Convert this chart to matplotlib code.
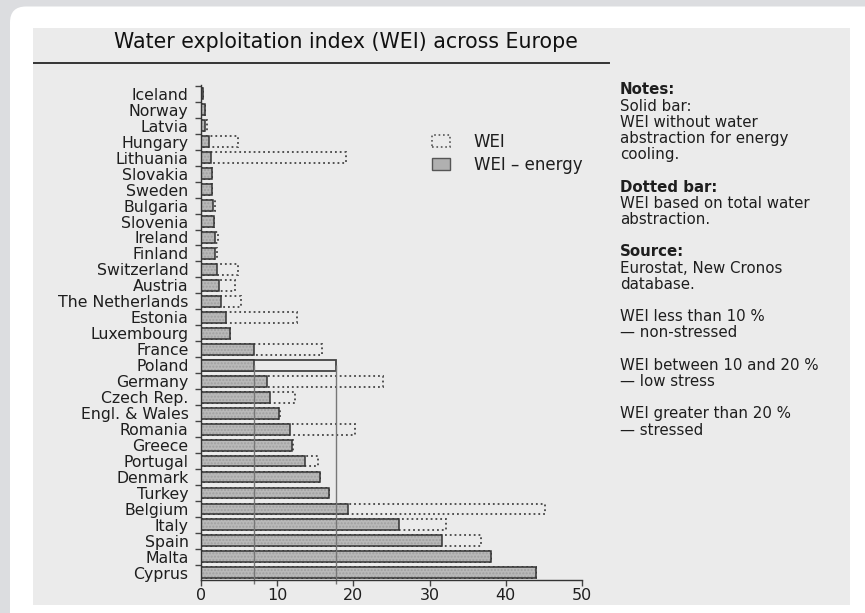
import numpy as np
import matplotlib.pyplot as plt
from matplotlib.patches import Rectangle, FancyBboxPatch, Patch
from matplotlib.lines import Line2D
from matplotlib.transforms import IdentityTransform

countries = ["Iceland", "Norway", "Latvia", "Hungary", "Lithuania", "Slovakia",
             "Sweden", "Bulgaria", "Slovenia", "Ireland", "Finland", "Switzerland",
             "Austria", "The Netherlands", "Estonia", "Luxembourg", "France", "Poland",
             "Germany", "Czech Rep.", "Engl. & Wales", "Romania", "Greece", "Portugal",
             "Denmark", "Turkey", "Belgium", "Italy", "Spain", "Malta", "Cyprus"]
# solid bar: WEI without abstraction for energy cooling
wei_energy = [0.2, 0.5, 0.5, 1.1, 1.3, 1.5, 1.5, 1.6, 1.7, 1.9, 1.8, 2.1, 2.4, 2.6,
              3.3, 3.8, 7.0, 7.0, 8.6, 9.1, 10.3, 11.7, 12.0, 13.6, 15.6, 16.8,
              19.3, 26.0, 31.6, 38.0, 44.0]
# dotted bar: WEI on total abstraction
wei_total = [0.2, 0.5, 0.8, 4.8, 19.0, 1.5, 1.5, 1.9, 1.7, 2.2, 2.1, 4.9, 4.4, 5.2,
             12.6, 3.8, 15.9, 17.7, 23.9, 12.3, 10.4, 20.2, 12.1, 15.3, 15.6, 16.8,
             45.2, 32.1, 36.8, 38.0, 44.0]

title = "Water exploitation index (WEI) across Europe"
legend_labels = ["WEI", "WEI \u2013 energy"]
notes = [("Notes:", True), ("Solid bar:", False), ("WEI without water", False),
         ("abstraction for energy", False), ("cooling.", False), None,
         ("Dotted bar:", True), ("WEI based on total water", False),
         ("abstraction.", False), None,
         ("Source:", True), ("Eurostat, New Cronos", False), ("database.", False), None,
         ("WEI less than 10 %", False), ("\u2014 non-stressed", False), None,
         ("WEI between 10 and 20 %", False), ("\u2014 low stress", False), None,
         ("WEI greater than 20 %", False), ("\u2014 stressed", False)]

plt.rcParams['font.family'] = ['DejaVu Sans']
txt = '#1e1e1e'

W, H = 865, 613
fig = plt.figure(figsize=(W / 100, H / 100), dpi=100, facecolor='#dcdde0')

def fx(px):
    return px / W

def fy(py):
    return 1 - py / H

# white card + scanned page
fig.add_artist(FancyBboxPatch((10, -30), 900, H - 6.5 + 30,
                              boxstyle="round,pad=0,rounding_size=16",
                              transform=IdentityTransform(), facecolor='white',
                              edgecolor='none', zorder=-5))
fig.add_artist(Rectangle((33, H - 605), 850 - 33, 605 - 28, transform=IdentityTransform(),
                         facecolor='#ebebeb', edgecolor='none', zorder=-4))

fig.text(fx(114), fy(42), title, fontsize=14.8, color='#111', va='center', ha='left')
fig.add_artist(Line2D([fx(34), fx(609)], [fy(63), fy(63)], color='#333', lw=1.4))

ax = fig.add_axes([fx(201), fy(580), (582 - 201) / W, (580 - 85) / H])
ax.set_facecolor('none')

n = len(countries)
y = np.arange(n)
bh = 0.68

tot = ax.barh(y, wei_total, height=bh, fill=False, edgecolor='#444', linestyle=':', lw=1.3)
tot[countries.index("Poland")].set_linestyle('-')
ax.barh(y, wei_energy, height=bh, color='#b9b9b9', edgecolor='none')
ax.barh(y, wei_energy, height=bh, fill=False, edgecolor='#a0a0a0', lw=0, hatch='.....')
ax.barh(y, wei_energy, height=bh, fill=False, edgecolor='#333', lw=1.1)

# guide lines dropping from the Poland bar
p = countries.index("Poland")
ax.vlines([wei_energy[p], wei_total[p]], p, n - 0.3, color='#777', lw=1, clip_on=False)

ax.set_xlim(0, 50)
ax.set_ylim(n - 0.55, -0.55)
ax.set_xticks(range(0, 51, 10))
ax.set_yticks(y)
ax.set_yticklabels(countries, fontsize=11.3, color=txt)
ax.set_yticks(np.arange(-0.5, n - 0.5), minor=True)
ax.tick_params(axis='y', which='major', length=0, pad=9)
ax.tick_params(axis='y', which='minor', length=4, width=1, color='#444')
ax.tick_params(axis='x', length=4, width=1, color='#444', labelsize=11.5, labelcolor=txt, pad=2)
for s in ['top', 'right']:
    ax.spines[s].set_visible(False)
for s in ['left', 'bottom']:
    ax.spines[s].set_color('#333')
    ax.spines[s].set_linewidth(1)

handles = [Patch(facecolor='none', edgecolor='#555', linestyle=':', lw=1.2),
           Patch(facecolor='#b0b0b0', edgecolor='#555', lw=1)]
fig.legend(handles, legend_labels, loc='upper left', bbox_to_anchor=(fx(432), fy(133)),
           frameon=False, fontsize=12, handlelength=1.05, handleheight=0.7,
           handletextpad=1.45, labelspacing=0.3, borderpad=0, borderaxespad=0,
           labelcolor=txt)

yy = 90
for item in notes:
    if item is not None:
        s, bold = item
        fig.text(fx(620), fy(yy), s, fontsize=10.8, color=txt, va='center', ha='left',
                 fontweight='bold' if bold else 'normal')
    yy += 16.2

fig.savefig("out.png", dpi=100, facecolor=fig.get_facecolor())
